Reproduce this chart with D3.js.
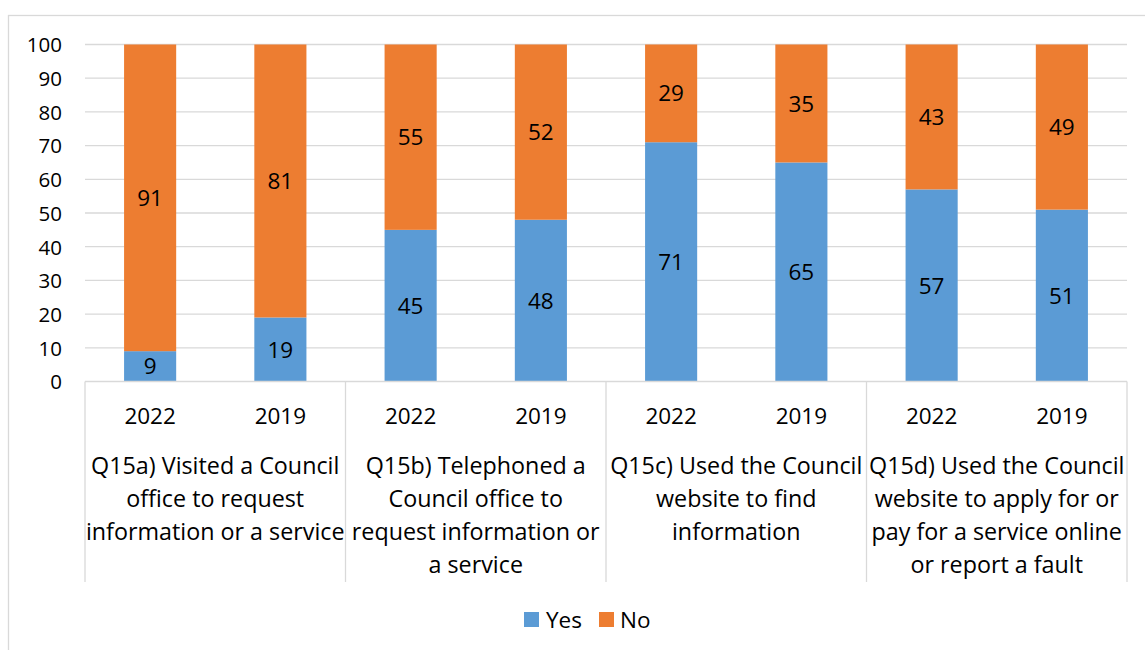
<!DOCTYPE html>
<html>
<head>
<meta charset="utf-8">
<script src="https://cdn.jsdelivr.net/npm/d3@7"></script>
<style>
  html, body { margin: 0; padding: 0; background: #fff; }
  svg { display: block; font-family: "Open Sans", "Noto Sans", sans-serif; }
</style>
</head>
<body>
<svg id="chart" width="1145" height="650"></svg>
<script>
// Survey responses: share of residents (%) answering Yes / No, 2022 vs 2019
const questions = [
  ["Q15a) Visited a Council", "office to request", "information or a service"],
  ["Q15b) Telephoned a", "Council office to", "request information or", "a service"],
  ["Q15c) Used the Council", "website to find", "information"],
  ["Q15d) Used the Council", "website to apply for or", "pay for a service online", "or report a fault"]
];
const years = ["2022", "2019"];
const yesValues = [9, 19, 45, 48, 71, 65, 57, 51];
const noValues  = [91, 81, 55, 52, 29, 35, 43, 49];
const seriesNames = ["Yes", "No"];
const seriesColors = ["#5b9bd5", "#ed7d31"];
const yTicks = [0, 10, 20, 30, 40, 50, 60, 70, 80, 90, 100];

const svg = d3.select("#chart");
const plot = { left: 85, right: 1127, top: 44.5, bottom: 381.5 };

// outer chart frame
svg.append("rect")
  .attr("x", 8.5).attr("y", 15.5)
  .attr("width", 1160).attr("height", 660)
  .attr("fill", "none").attr("stroke", "#d9d9d9").attr("stroke-width", 1.3);

// one row per bar
const rows = [];
questions.forEach((q, qi) => {
  years.forEach((yr, yi) => {
    const i = qi * years.length + yi;
    rows.push({ key: qi + "-" + yr, year: yr, q: qi, Yes: yesValues[i], No: noValues[i] });
  });
});

const x = d3.scaleBand()
  .domain(rows.map(d => d.key))
  .range([plot.left, plot.right])
  .paddingInner(0.6).paddingOuter(0.3);

const xGroup = d3.scaleBand()
  .domain(questions.map((q, i) => i))
  .range([plot.left, plot.right]);

const y = d3.scaleLinear().domain([0, 100]).range([plot.bottom, plot.top]);

// horizontal gridlines
svg.append("g")
  .selectAll("line")
  .data(yTicks.filter(t => t > 0))
  .join("line")
  .attr("x1", plot.left).attr("x2", plot.right)
  .attr("y1", d => y(d)).attr("y2", d => y(d))
  .attr("stroke", "#d9d9d9").attr("stroke-width", 1.3);

// y axis labels
const yAxis = d3.axisLeft(y).tickValues(yTicks).tickSize(0).tickPadding(0);
const yg = svg.append("g").attr("transform", `translate(62,0)`).call(yAxis);
yg.select(".domain").remove();
yg.selectAll("text")
  .attr("font-size", 20.5).attr("fill", "#000")
  .attr("font-family", "Open Sans, sans-serif")
  .attr("dy", "0.36em");

// stacked bars
const stack = d3.stack().keys(seriesNames);
const layers = stack(rows);
const color = d3.scaleOrdinal().domain(seriesNames).range(seriesColors);

const layerG = svg.append("g").selectAll("g")
  .data(layers)
  .join("g")
  .attr("fill", d => color(d.key));

layerG.selectAll("rect")
  .data(d => d.map(s => ({ s, key: d.key })))
  .join("rect")
  .attr("x", d => x(d.s.data.key))
  .attr("width", x.bandwidth())
  .attr("y", d => y(d.s[1]))
  .attr("height", d => y(d.s[0]) - y(d.s[1]));

// value labels centred in each segment
svg.append("g").selectAll("text")
  .data(layers.flatMap(l => l.map(s => ({ s, key: l.key }))))
  .join("text")
  .attr("x", d => x(d.s.data.key) + x.bandwidth() / 2)
  .attr("y", d => y((d.s[0] + d.s[1]) / 2))
  .attr("dy", "0.36em")
  .attr("text-anchor", "middle")
  .attr("font-size", 22.5)
  .attr("fill", "#000")
  .text(d => d.s.data[d.key]);

// category axis baseline and group dividers
const axisG = svg.append("g");
axisG.append("line")
  .attr("x1", plot.left).attr("x2", plot.right)
  .attr("y1", plot.bottom).attr("y2", plot.bottom)
  .attr("stroke", "#d9d9d9").attr("stroke-width", 1.3);

const dividers = questions.map((q, i) => xGroup(i)).concat([plot.right]);
axisG.selectAll("line.div")
  .data(dividers)
  .join("line")
  .attr("class", "div")
  .attr("x1", d => d).attr("x2", d => d)
  .attr("y1", plot.bottom).attr("y2", 582)
  .attr("stroke", "#d9d9d9").attr("stroke-width", 1.3);

// year labels
axisG.selectAll("text.year")
  .data(rows)
  .join("text")
  .attr("class", "year")
  .attr("x", d => x(d.key) + x.bandwidth() / 2)
  .attr("y", 416)
  .attr("dy", "0.36em")
  .attr("text-anchor", "middle")
  .attr("font-size", 22.5)
  .text(d => d.year);

// question labels, wrapped
const qText = axisG.selectAll("text.q")
  .data(questions)
  .join("text")
  .attr("class", "q")
  .attr("text-anchor", "middle")
  .attr("font-size", 23.3);

qText.selectAll("tspan")
  .data((d, i) => d.map(line => ({ line, i })))
  .join("tspan")
  .attr("x", d => xGroup(d.i) + xGroup.bandwidth() / 2)
  .attr("y", (d, j) => 466 + j * 33)
  .attr("dy", "0.36em")
  .text(d => d.line);

// legend
const legend = svg.append("g");
const legendItems = [
  { name: "Yes", sx: 524, tx: 546 },
  { name: "No", sx: 599, tx: 620 }
];
legend.selectAll("rect")
  .data(legendItems)
  .join("rect")
  .attr("x", d => d.sx).attr("y", 612)
  .attr("width", 15).attr("height", 15)
  .attr("fill", d => color(d.name));
legend.selectAll("text")
  .data(legendItems)
  .join("text")
  .attr("x", d => d.tx).attr("y", 619.5)
  .attr("dy", "0.36em")
  .attr("font-size", 22.5)
  .text(d => d.name);
</script>
</body>
</html>
